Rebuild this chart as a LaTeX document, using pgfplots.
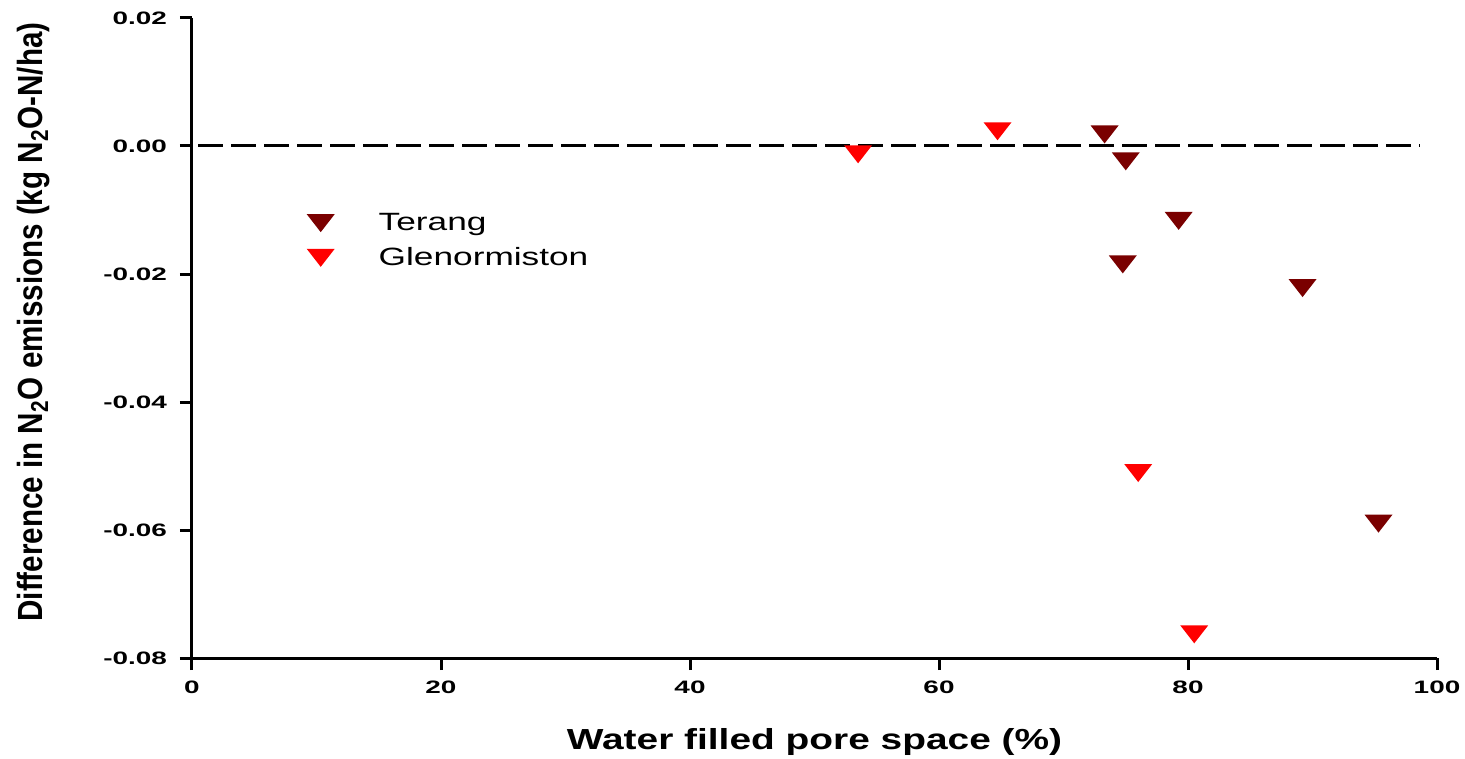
\documentclass[border=0pt]{standalone}
\usepackage{fontspec}
\setmainfont{Liberation Sans}
\usepackage{graphicx}
\usepackage{pgfplots}
\pgfplotsset{compat=1.18}
\definecolor{terang}{RGB}{122,0,0}
\definecolor{glen}{RGB}{255,0,0}
\pgfdeclareplotmark{dtri}{%
  \pgfpathmoveto{\pgfqpoint{-7pt}{4.5pt}}%
  \pgfpathlineto{\pgfqpoint{7pt}{4.5pt}}%
  \pgfpathlineto{\pgfqpoint{0pt}{-4.5pt}}%
  \pgfpathclose\pgfusepathqfill}
\begin{document}
\begin{tikzpicture}
\begin{axis}[
  scale only axis,
  width=622.5pt, height=320pt,
  xmin=0, xmax=100, ymin=-0.08, ymax=0.02,
  axis x line*=bottom, axis y line*=left,
  axis line style={line width=1.5pt, -},
  every tick/.style={line width=1.5pt, black},
  xtick={0,20,40,60,80,100},
  ytick={-0.08,-0.06,-0.04,-0.02,0,0.02},
  tick align=outside,
  major tick length=6pt,
  tick label style={font=\fontsize{9pt}{10pt}\selectfont\bfseries},
  xticklabel={\scalebox{1.55}[1]{\pgfmathprintnumber[assume math mode=true]{\tick}}},
  yticklabel={\scalebox{1.55}[1]{\pgfmathprintnumber[assume math mode=true,fixed,fixed zerofill,precision=2]{\tick}}},
  xticklabel style={yshift=-2pt},
  yticklabel style={xshift=-3pt},
  scaled y ticks=false,
  xlabel={\scalebox{1.34}[1]{Water filled pore space (\%)}},
  ylabel={\scalebox{1}[1.18]{Difference in N\textsubscript{2}O emissions (kg N\textsubscript{2}O-N/ha)}},
  xlabel style={font=\fontsize{14.5pt}{16pt}\selectfont\bfseries, at={(axis description cs:0.5,0)}, anchor=center, yshift=-42pt},
  ylabel style={font=\fontsize{14.8pt}{16pt}\selectfont\bfseries, at={(axis description cs:-0.127,0.525)}, anchor=center},
  legend style={draw=none, fill=none, at={(axis description cs:0.087,0.652)}, anchor=west, font=\fontsize{12.5pt}{15pt}\selectfont, row sep=3pt, /tikz/every even column/.append style={column sep=0pt}},
  legend cell align=left,
  legend image code/.code={\draw[#1] plot coordinates {(0.35cm,0cm)};},
  clip=false,
]
\addplot[forget plot, black, line width=1.5pt, dash pattern=on 12.5pt off 4pt] coordinates {(0.5,0) (98.6,0)};
\addplot[only marks, mark=dtri, color=terang] coordinates {
 (73.3,0.0018) (75.0,-0.0024) (79.25,-0.0117) (74.76,-0.0185) (89.2,-0.0222) (95.3,-0.0590)};
\addlegendentry{\hspace{20pt}\scalebox{1.41}[1]{Terang}}
\addplot[only marks, mark=dtri, color=glen] coordinates {
 (53.5,-0.0013) (64.7,0.0023) (76.0,-0.0511) (80.5,-0.0763)};
\addlegendentry{\hspace{20pt}\scalebox{1.41}[1]{Glenormiston}}
\end{axis}
\pgfresetboundingbox
\path[use as bounding box] ([shift={(-96pt,-50pt)}]current axis.south west) rectangle ([shift={(14pt,9pt)}]current axis.north east);
\end{tikzpicture}
\end{document}
